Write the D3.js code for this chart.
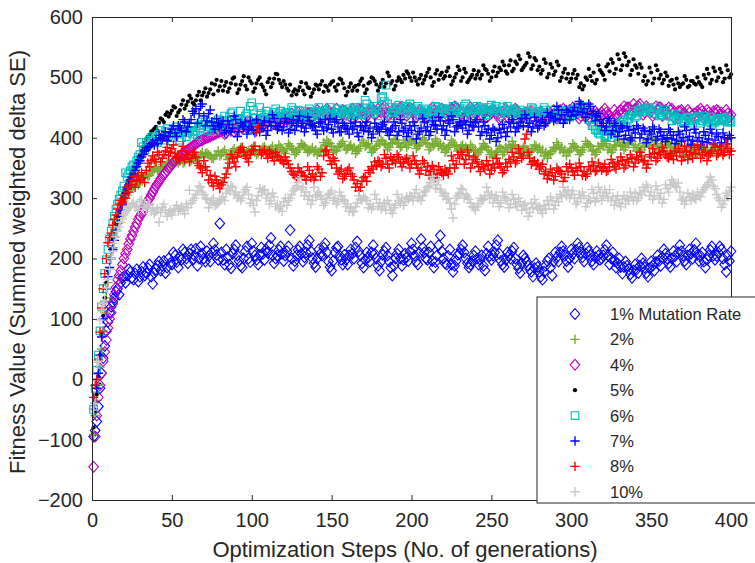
<!DOCTYPE html>
<html><head><meta charset="utf-8">
<script src="https://cdn.jsdelivr.net/npm/d3@7"></script>
<style>
body{margin:0;background:#fff}
svg{display:block}
text{font-family:"Liberation Sans",Arial,Helvetica,sans-serif;fill:#262626}
</style>
</head><body>
<svg id="chart" width="755" height="563"></svg>
<script>
// ---------------- data (generations 1..400) ----------------
const generations = d3.range(1, 401);

const rate1 = [
-95,-85,-70,-45,-15,10,35,55,80,95,110,120,128,135,145,150,140,160,168,170,
160,172,182,178,168,165,175,182,162,170,178,186,172,176,184,190,170,158,176,182,
188,195,180,188,196,176,185,200,192,190,210,205,194,185,202,198,215,210,200,192,
208,215,198,205,216,188,200,220,208,200,195,212,204,195,210,225,214,206,198,258,
210,198,190,215,202,190,184,208,215,222,205,196,188,185,200,212,220,200,194,225,
212,205,198,190,206,218,208,198,215,210,222,234,205,192,200,205,214,220,208,196,
205,212,220,247,200,188,196,205,214,220,208,195,202,210,222,230,212,200,192,186,
200,215,208,205,218,225,210,195,186,180,196,210,218,220,205,198,190,206,198,190,
205,215,208,200,218,228,212,205,192,185,198,210,202,195,210,222,208,200,188,180,
195,206,212,218,205,195,185,172,188,200,208,215,200,188,198,208,202,196,212,225,
215,205,195,190,210,232,218,210,200,198,210,220,196,185,194,205,222,238,212,200,
192,190,204,215,190,178,188,196,206,208,215,222,210,200,192,185,190,196,205,212,
200,190,198,205,188,180,208,220,204,198,205,210,222,230,208,196,190,186,198,210,
205,200,212,218,200,190,184,176,192,205,200,195,188,182,178,170,184,192,186,178,
170,165,178,188,196,200,185,172,195,210,202,195,210,220,212,205,196,186,200,215,
208,200,214,225,218,210,202,195,208,218,212,205,196,190,202,212,205,198,200,205,
214,222,205,190,200,210,196,185,192,200,186,175,186,195,188,182,174,168,180,190,
182,176,188,200,192,185,176,170,184,195,188,180,194,205,196,188,202,215,208,200,
192,186,200,212,204,195,210,222,212,205,196,190,205,215,208,200,214,225,206,196,
204,210,195,185,198,205,214,220,205,198,204,210,220,215,200,190,178,205,196,212];

const rate2 = [
-92,-60,-35,-10,20,50,80,110,135,160,182,200,218,235,248,260,270,280,288,295,
300,305,310,315,318,320,326,330,322,325,332,335,338,340,336,338,344,345,348,350,
346,345,352,355,350,352,358,360,354,356,362,362,360,358,364,365,358,360,366,368,
364,362,368,370,372,366,368,372,376,368,374,375,372,370,366,365,370,372,378,370,
372,376,380,372,364,368,374,378,382,374,370,380,384,376,380,372,376,378,374,382,
386,376,372,374,378,380,384,385,380,378,374,382,386,376,372,380,388,384,380,378,
374,382,390,386,382,380,372,376,380,384,390,388,386,382,376,378,380,384,376,380,
372,376,380,382,392,388,396,392,390,386,376,380,378,384,386,390,394,386,380,382,
386,388,380,384,374,378,382,386,396,392,386,388,390,384,376,380,382,386,394,390,
396,394,390,388,380,384,390,392,398,396,392,390,384,386,396,392,384,388,396,394,
398,390,382,386,388,392,400,396,392,390,380,384,390,388,398,394,386,390,382,386,
376,380,384,388,396,392,388,386,378,382,386,388,382,384,376,378,388,384,378,380,
372,376,380,382,390,386,384,380,372,376,368,372,376,378,386,382,372,376,384,380,
388,384,394,388,386,382,374,378,380,384,386,380,372,376,378,382,388,386,380,384,
376,380,370,376,366,372,374,378,384,382,392,388,380,384,376,380,370,376,378,382,
390,386,384,380,372,376,380,384,394,390,388,386,378,380,372,376,386,382,390,386,
394,390,380,384,376,380,388,386,396,392,386,388,380,384,392,390,398,394,384,388,
378,384,376,380,390,386,396,392,384,388,400,394,386,390,380,386,378,382,392,388,
392,384,376,378,386,382,388,386,376,380,370,376,384,382,390,386,374,380,372,376,
386,382,372,378,380,374,376,380,388,384,374,378,386,382,370,376,384,380,382,378];

const rate4 = [
-145,-95,-60,-30,-10,10,30,45,65,85,100,110,125,140,152,165,172,180,190,200,
208,215,224,232,238,245,252,258,265,270,274,278,285,290,296,300,305,310,315,320,
324,328,332,336,340,342,346,350,352,356,360,362,365,368,370,372,374,376,378,380,
382,384,386,388,390,392,394,395,396,398,399,400,401,402,404,405,406,408,409,410,
414,412,406,408,412,415,420,418,410,414,418,420,424,416,420,422,416,418,428,425,
418,420,426,424,430,428,420,422,426,426,432,430,424,425,430,428,434,432,426,428,
436,432,430,436,440,430,428,434,442,438,436,432,428,436,440,440,434,435,442,438,
446,442,438,436,434,440,448,444,442,438,436,442,448,436,432,440,446,444,438,440,
436,444,448,438,436,442,448,446,444,440,432,436,444,442,450,446,438,440,448,444,
442,448,452,442,436,438,440,444,448,442,440,446,450,448,444,442,436,446,450,448,
446,442,434,438,446,444,442,440,432,436,442,442,450,446,440,444,436,440,448,444,
434,438,444,442,448,446,452,450,448,444,440,440,432,436,442,442,450,446,436,440,
448,444,436,438,446,442,434,436,444,440,446,444,440,438,432,434,442,440,448,444,
432,438,444,442,448,446,440,440,432,436,442,442,436,438,444,434,430,440,436,436,
444,440,438,436,430,432,440,438,446,442,432,436,446,440,448,444,436,438,446,442,
450,446,444,440,432,436,446,442,434,438,428,432,440,436,444,440,428,434,442,438,
448,442,438,436,428,432,446,438,436,444,446,440,452,446,450,450,440,444,456,448,
446,452,456,446,438,442,452,448,446,444,436,440,452,446,450,450,436,444,446,440,
450,446,448,442,432,438,444,444,446,440,440,436,446,442,430,438,440,434,444,440,
448,444,432,438,446,442,434,436,444,440,446,444,438,442,430,436,446,440,434,438];

const rate5 = [
-80,-55,-25,5,40,75,105,135,160,180,200,215,232,245,258,270,280,290,300,310,
318,325,330,335,342,350,356,362,368,372,378,385,392,398,402,405,410,412,415,418,
412,425,432,430,426,438,442,435,440,445,452,450,436,442,446,455,462,448,454,460,
470,465,458,455,462,470,476,462,470,475,482,468,474,480,490,472,488,496,478,485,
494,478,486,492,476,482,490,498,500,488,474,480,488,494,502,486,480,500,494,490,
476,482,490,496,500,488,484,478,472,492,498,484,490,498,506,505,496,490,484,494,
488,482,478,488,470,476,480,472,478,484,492,478,472,490,484,482,468,474,480,488,
486,480,488,494,476,486,484,478,488,492,494,484,478,488,498,496,490,482,470,476,
484,490,478,484,486,478,488,494,498,486,474,480,490,492,500,498,494,488,478,484,
490,496,484,490,508,502,490,494,480,486,494,500,496,492,504,498,510,506,500,494,
508,500,494,488,498,504,490,496,502,508,514,500,486,492,506,512,496,504,508,498,
502,510,516,502,488,494,500,506,518,512,494,500,514,508,492,496,500,504,512,498,
504,510,498,504,520,514,512,506,494,500,510,518,502,508,516,512,526,520,510,506,
520,528,510,514,526,522,536,530,512,516,520,524,540,534,514,520,532,528,512,518,
506,512,530,524,500,506,522,516,504,510,526,520,494,500,508,514,498,506,492,498,
506,512,498,504,484,490,480,486,500,496,514,502,494,508,490,496,520,512,508,504,
496,518,522,510,530,524,506,514,538,530,512,520,540,534,520,526,504,512,530,520,
516,506,522,516,494,502,488,494,516,508,490,498,520,512,498,504,490,496,508,502,
486,494,496,488,480,498,490,484,488,490,502,496,484,486,494,494,490,488,500,492,
488,484,504,498,514,506,490,496,516,510,494,500,514,508,492,498,520,512,500,505];

const rate6 = [
-50,-15,15,40,80,120,150,175,198,215,232,245,258,270,282,290,298,305,312,320,
342,335,340,345,352,355,348,362,368,372,392,385,380,392,388,396,400,402,394,398,
392,406,412,400,396,410,415,404,400,395,408,412,418,406,396,400,410,414,402,408,
412,418,406,410,412,404,420,416,426,422,426,412,418,426,410,418,420,424,430,416,
420,428,436,420,428,434,440,443,430,426,426,432,444,422,430,436,440,428,452,458,
446,432,420,426,450,440,430,434,444,438,426,430,436,442,448,436,440,444,430,436,
440,442,438,432,450,446,432,438,446,444,436,440,438,434,444,448,430,440,442,436,
444,450,438,442,436,446,440,438,450,444,432,440,442,448,436,442,446,436,440,444,
448,438,442,450,444,442,450,446,438,440,462,456,440,448,446,440,446,452,436,444,
466,468,460,487,456,450,436,442,444,448,450,454,440,446,436,440,452,450,456,446,
444,440,448,452,436,444,440,448,446,442,432,438,446,446,452,450,436,444,448,448,
442,440,448,446,444,452,440,444,436,448,440,442,452,456,448,446,436,440,444,448,
452,444,446,450,448,442,438,446,450,454,444,448,452,444,436,440,450,446,440,452,
446,444,440,448,444,440,436,446,440,442,432,436,442,444,450,448,440,440,444,436,
440,442,450,446,436,440,446,432,434,438,440,444,446,436,432,440,444,446,434,438,
446,442,448,450,440,444,450,452,446,440,430,430,420,420,414,412,408,406,412,414,
404,402,410,414,400,416,406,410,416,420,422,426,430,418,426,432,436,440,444,434,
436,442,446,448,444,444,448,450,446,446,440,440,450,446,436,438,442,442,446,436,
436,440,428,434,440,430,432,438,426,426,428,432,434,428,420,424,432,430,434,436,
424,428,436,432,426,430,434,424,428,426,430,432,420,428,432,430,434,426,428,426];

const rate7 = [
-50,-40,-15,10,40,70,100,130,150,170,185,200,215,230,245,258,270,280,290,300,
308,315,322,330,335,340,346,352,358,362,368,372,378,380,384,386,390,392,388,396,
390,404,400,398,404,410,395,402,408,414,420,408,402,420,416,412,430,426,410,418,
424,430,444,440,448,424,440,452,456,436,420,428,440,446,426,420,414,432,424,418,
422,428,408,412,428,422,410,416,436,430,402,410,424,420,418,426,406,414,428,418,
412,408,430,424,410,416,420,428,404,412,426,420,438,432,420,414,418,424,412,418,
432,426,408,414,424,430,412,420,428,436,418,424,410,416,434,428,422,420,418,412,
406,424,426,418,412,430,416,422,432,414,408,426,430,418,410,410,424,420,416,414,
406,424,414,418,426,408,402,420,418,412,420,426,410,416,400,406,424,418,414,410,
418,422,426,414,410,404,412,416,426,420,404,410,430,424,412,416,402,408,420,412,
426,420,398,406,410,416,432,426,412,418,404,410,428,422,420,414,434,428,414,420,
404,412,428,424,436,430,410,418,420,426,422,416,428,422,406,412,426,420,418,426,
430,418,404,410,426,420,408,414,398,404,416,412,394,400,414,408,422,416,402,410,
426,418,430,424,410,416,418,426,432,420,438,432,418,424,410,418,434,428,416,420,
426,430,420,424,442,434,436,440,428,432,452,446,430,438,424,430,446,442,430,436,
444,450,438,444,460,456,442,448,434,440,456,452,438,444,428,436,440,430,420,424,
412,418,432,428,406,412,424,420,402,410,420,416,398,404,418,412,396,400,414,408,
420,416,400,406,416,412,392,398,410,406,418,414,396,402,414,410,398,404,394,400,
414,410,398,404,390,396,410,406,394,400,418,412,396,402,388,396,414,408,394,400,
388,394,410,404,392,398,414,408,390,396,406,402,386,392,408,400,390,398,404,400];

const rate8 = [
-30,-10,0,32,78,118,150,175,200,226,235,242,255,265,272,282,290,296,292,305,
300,318,310,322,330,336,318,328,338,330,342,334,326,346,358,352,362,370,364,360,
376,372,360,366,372,378,384,370,376,382,388,374,366,368,362,378,386,364,372,372,
360,366,372,376,368,358,354,350,342,362,352,346,330,338,326,320,336,330,324,316,
322,326,334,340,350,358,372,366,360,352,368,376,380,384,376,370,366,360,372,378,
380,386,410,418,380,372,376,380,372,366,378,374,368,362,376,370,368,364,362,358,
368,362,356,350,344,340,338,334,350,344,342,338,336,330,352,346,334,340,330,336,
352,348,336,342,370,378,380,372,362,356,366,362,350,340,344,348,332,336,340,346,
350,340,336,330,318,324,312,318,328,334,336,328,346,342,352,348,360,354,362,360,
352,356,372,366,356,350,368,362,364,358,372,368,360,352,358,364,366,360,350,356,
370,362,356,350,340,346,362,358,346,352,338,344,354,348,334,340,352,346,342,338,
348,344,340,350,370,362,350,356,372,366,376,372,356,364,380,370,350,358,368,364,
360,352,344,356,352,348,362,354,340,346,356,350,366,358,356,352,342,346,358,352,
364,360,376,368,358,362,382,374,366,370,398,406,376,366,356,360,362,354,358,348,
352,356,340,344,332,338,348,342,330,336,350,346,344,340,328,334,352,344,356,350,
344,338,350,346,358,352,338,344,336,340,352,348,360,354,344,346,358,352,346,350,
356,344,346,352,364,358,352,348,360,356,368,362,350,354,364,360,372,366,352,358,
368,364,376,370,360,362,350,356,372,368,382,374,362,366,376,372,384,378,372,368,
366,374,370,364,378,370,382,376,362,368,386,378,364,372,376,366,384,374,388,380,
366,372,384,376,362,370,374,378,390,384,370,374,386,380,372,376,390,382,372,378];

const rate10 = [
-51,-40,28,30,98,115,125,130,151,165,182,200,212,225,236,245,252,260,266,272,
276,280,284,286,290,292,285,288,280,295,298,285,290,282,288,290,278,284,274,278,
282,260,276,285,290,280,270,276,280,272,278,282,288,278,282,286,280,274,290,284,
313,292,296,300,306,312,320,318,310,306,300,298,284,292,296,300,288,290,292,296,
298,302,296,308,316,312,320,318,306,310,300,304,296,300,310,314,318,306,292,298,
288,277,296,304,316,310,313,314,300,306,290,296,308,302,286,290,282,286,278,294,
300,288,296,300,306,312,316,320,326,333,314,318,304,310,298,304,290,296,318,302,
306,310,304,298,288,292,300,306,308,312,296,300,290,294,310,304,298,296,286,290,
278,284,277,278,286,292,304,298,296,302,300,296,284,290,282,286,306,298,286,292,
282,286,292,280,296,290,280,275,284,288,306,296,292,300,288,294,302,298,304,302,
296,308,314,300,302,296,304,310,312,318,320,326,336,330,316,322,330,314,310,304,
308,298,300,292,282,267,290,300,304,308,316,314,300,306,302,298,292,286,284,280,
286,290,300,296,298,304,318,310,300,306,292,300,304,296,286,292,310,302,300,296,
284,290,306,298,290,286,300,294,280,288,290,282,270,276,292,284,298,290,282,286,
280,275,288,282,296,290,302,296,282,288,300,294,306,302,318,310,304,313,300,306,
312,300,290,294,306,300,310,304,286,292,300,296,314,308,294,300,318,310,296,304,
314,308,300,314,296,302,288,296,304,292,286,298,304,290,300,296,310,302,296,308,
296,300,310,306,318,312,322,318,304,310,298,304,320,314,300,308,292,298,322,316,
310,322,330,326,320,318,325,310,297,300,290,296,308,302,296,306,300,298,310,304,
302,310,314,318,322,326,335,330,320,316,306,300,296,285,290,296,308,304,312,318];

const seriesLabels = ["1% Mutation Rate","2%","4%","5%","6%","7%","8%","10%"];
const xTickValues = [0,50,100,150,200,250,300,350,400];
const yTickValues = [-200,-100,0,100,200,300,400,500,600];

// ---------------- styling ----------------
const seriesData = [rate1, rate2, rate4, rate5, rate6, rate7, rate8, rate10];
seriesData.forEach((s,i)=>{ if(s.length !== generations.length) throw new Error("series "+i+" length "+s.length); });
const styles = [
  {shape:"diamond", color:"#0000ff"},
  {shape:"plus",    color:"#77ac30"},
  {shape:"diamond", color:"#bf00bf"},
  {shape:"dot",     color:"#000000"},
  {shape:"square",  color:"#00bfbf"},
  {shape:"plus",    color:"#0000ff"},
  {shape:"plus",    color:"#ff0000"},
  {shape:"plus",    color:"#c8c8c8"}
];

const svg = d3.select("#chart");
const L = 92, R = 731, T = 17, B = 500;
const x = d3.scaleLinear().domain([0,400]).range([L,R]);
const y = d3.scaleLinear().domain([-200,600]).range([B,T]);

function markerPath(shape){
  switch(shape){
    case "diamond": return "M0,-5.4L4.8,0L0,5.4L-4.8,0Z";
    case "plus":    return "M-4.7,0H4.7M0,-4.7V4.7";
    case "square":  return "M-3.8,-3.8H3.8V3.8H-3.8Z";
    default: return null;
  }
}
function drawMarker(sel, st){
  if(st.shape === "dot"){
    sel.append("circle").attr("r",2.1).attr("fill",st.color);
  } else {
    sel.append("path").attr("d",markerPath(st.shape))
      .attr("fill","none").attr("stroke",st.color)
      .attr("stroke-width", st.shape==="plus" ? 1.4 : 1.1);
  }
}

// points
seriesData.forEach((vals, si) => {
  const st = styles[si];
  const g = svg.append("g");
  vals.forEach((v, i) => {
    const m = g.append("g").attr("transform", `translate(${x(generations[i])},${y(v)})`);
    drawMarker(m, st);
  });
});

// axes (MATLAB-like box with inward ticks)
const axColor = "#262626";
const fs = "20px";
const xAxis = svg.append("g").attr("transform",`translate(0,${B})`)
  .call(d3.axisBottom(x).tickValues(xTickValues).tickSize(-5).tickPadding(13).tickSizeOuter(0));
const yAxis = svg.append("g").attr("transform",`translate(${L},0)`)
  .call(d3.axisLeft(y).tickValues(yTickValues).tickSize(-5).tickPadding(9).tickSizeOuter(0));
const xTop = svg.append("g").attr("transform",`translate(0,${T})`)
  .call(d3.axisTop(x).tickValues(xTickValues).tickSize(-5).tickFormat("").tickSizeOuter(0));
const yRight = svg.append("g").attr("transform",`translate(${R},0)`)
  .call(d3.axisRight(y).tickValues(yTickValues).tickSize(-5).tickFormat("").tickSizeOuter(0));
[xAxis,yAxis,xTop,yRight].forEach(a=>{
  a.selectAll("path,line").attr("stroke",axColor).attr("stroke-width",1);
  a.selectAll("text").attr("fill",axColor).style("font-size",fs)
   .style("font-family",'"Liberation Sans",Arial,sans-serif');
});

// axis titles
svg.append("text").attr("x",405).attr("y",557).attr("text-anchor","middle")
  .style("font-size","22px").text("Optimization Steps (No. of generations)");
svg.append("text").attr("transform",`translate(25,262) rotate(-90)`)
  .attr("text-anchor","middle").style("font-size","22px")
  .text("Fitness Value (Summed weighted delta SE)");

// legend
const lg = svg.append("g");
lg.append("rect").attr("x",537).attr("y",297).attr("width",240).attr("height",206)
  .attr("fill","#fff").attr("stroke",axColor).attr("stroke-width",1);
seriesLabels.forEach((lab, i) => {
  const yy = 314 + i*25.4;
  const m = lg.append("g").attr("transform",`translate(575,${yy})`);
  drawMarker(m, styles[i]);
  lg.append("text").attr("x",610).attr("y",yy).attr("dy","0.36em")
    .style("font-size","16.5px").text(lab);
});
</script>
</body></html>
